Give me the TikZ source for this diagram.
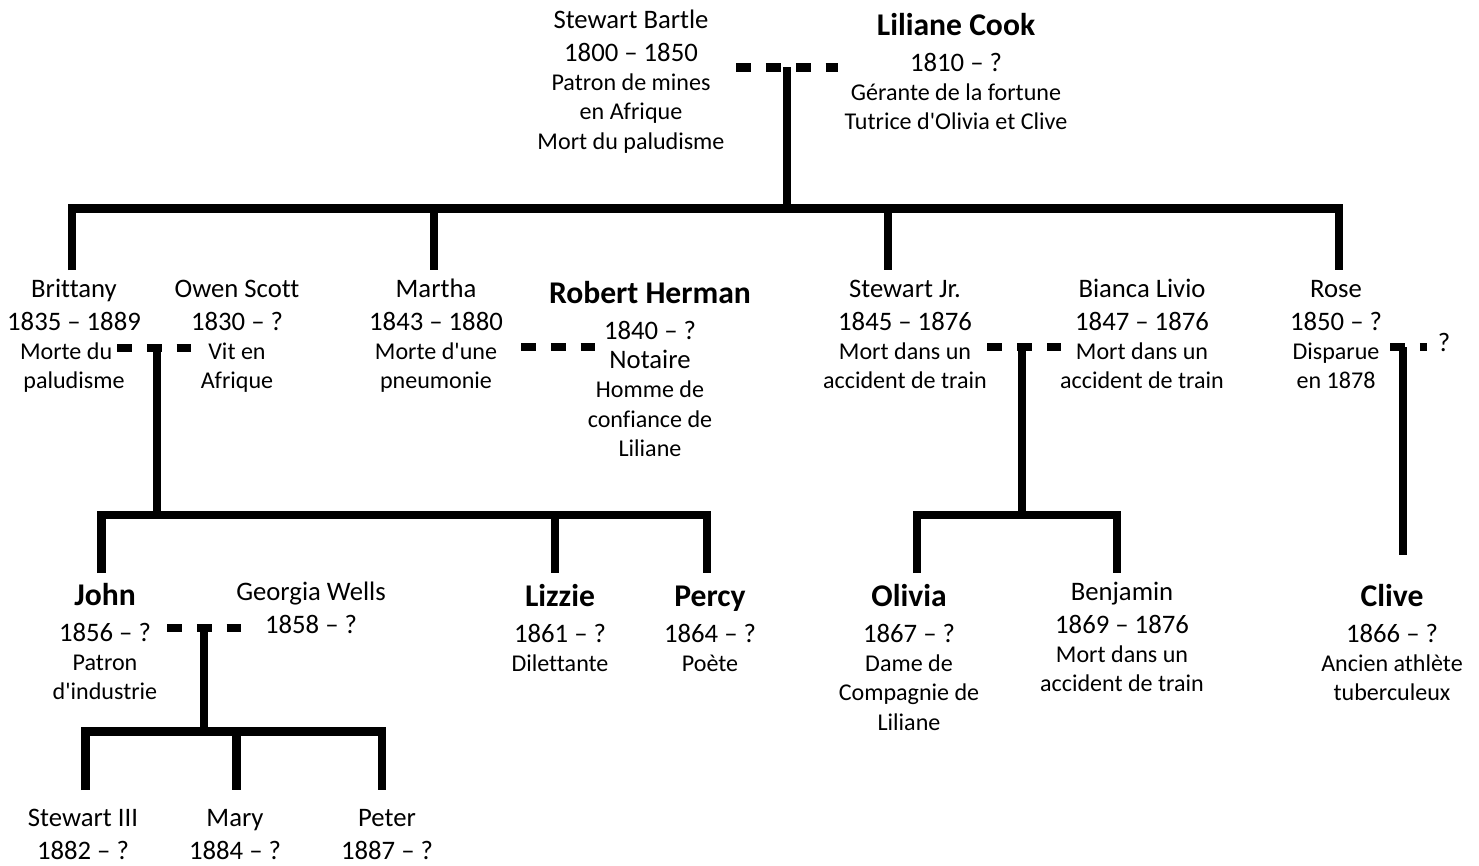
\documentclass[tikz,border=0pt]{standalone}
\usepackage{fontspec}
\newfontfamily\treefont{Carlito}[Ligatures=CommonOff]
\usetikzlibrary{positioning}

\newcommand{\pname}[1]{{\fontsize{15.2}{17}\selectfont\strut #1}}
\newcommand{\bname}[1]{{\fontsize{18}{20}\selectfont\bfseries\strut #1}}
\newcommand{\pdate}[1]{{\fontsize{15.2}{17}\selectfont #1}}

\begin{document}
\begin{tikzpicture}[
    x=0.02cm, y=-0.02cm,
    person/.style={align=center, anchor=north, inner sep=0pt, font=\treefont\fontsize{13.7}{16.6}\selectfont},
    line/.style={line width=4.8pt, line join=miter},
    couple/.style={line width=4.8pt, dash pattern=on 8.7pt off 8.3pt}
]
\useasboundingbox (0,0) rectangle (1479,865);

% First generation
\node[person] (bartle) at (631,7.6) {\pname{Stewart Bartle}\\[2pt] \pdate{1800 – 1850}\\ Patron de mines\\ en Afrique\\ Mort du paludisme};
\node[person] (cook) at (956,10.5) {\bname{Liliane Cook}\\[4pt] \pdate{1810 – ?}\\ Gérante de la fortune\\ Tutrice d'Olivia et Clive};

% Second generation
\node[person] (brittany) at (74,276.6) {\pname{Brittany}\\[2pt] \pdate{1835 – 1889}\\ Morte du\kern9pt\\ paludisme};
\node[person] (owen) at (237,276.6) {\pname{Owen Scott}\\[2pt] \pdate{1830 – ?}\\ Vit en\\ Afrique};
\node[person] (martha) at (436,276.6) {\pname{Martha}\\[2pt] \pdate{1843 – 1880}\\ Morte d'une\\ pneumonie};
\node[person] (herman) at (650,278.5) {\bname{Robert Herman}\\[4pt] \pdate{1840 – ?}\\ \pdate{Notaire}\\ Homme de\\ confiance de\\ Liliane};
\node[person] (stewartjr) at (905,276.6) {\pname{Stewart Jr.}\\[2pt] \pdate{1845 – 1876}\\ Mort dans un\\ accident de train};
\node[person] (bianca) at (1142,276.6) {\pname{Bianca Livio}\\[2pt] \pdate{1847 – 1876}\\ Mort dans un\\ accident de train};
\node[person] (rose) at (1336,276.6) {\pname{Rose}\\[2pt] \pdate{1850 – ?}\\ Disparue\\ en 1878};
\node[person] (roseq) at (1444,330) {\pname{?}};

% Third generation
\node[person] (john) at (105,580.5) {\bname{John}\\[4pt] \pdate{1856 – ?}\\ Patron\\ d'industrie};
\node[person] (georgia) at (311,579.6) {\pname{Georgia Wells}\\[2pt] \pdate{1858 – ?}};
\node[person] (lizzie) at (560,581.5) {\bname{Lizzie}\\[4pt] \pdate{1861 – ?}\\ Dilettante};
\node[person] (percy) at (710,581.5) {\bname{Percy}\\[4pt] \pdate{1864 – ?}\\ Poète};
\node[person] (olivia) at (909,581.5) {\bname{Olivia}\\[4pt] \pdate{1867 – ?}\\ Dame de\\ Compagnie de\\ Liliane};
\node[person] (benjamin) at (1122,579.6) {\pname{Benjamin}\\[2pt] \pdate{1869 – 1876}\\ Mort dans un\\ accident de train};
\node[person] (clive) at (1392,581.5) {\bname{Clive}\\[4pt] \pdate{1866 – ?}\\ Ancien athlète\\ tuberculeux};

% Fourth generation
\node[person] (stewart3) at (83,805.6) {\pname{Stewart III}\\[2pt] \pdate{1882 – ?}};
\node[person] (mary) at (235,805.6) {\pname{Mary}\\[2pt] \pdate{1884 – ?}};
\node[person] (peter) at (387,805.6) {\pname{Peter}\\[2pt] \pdate{1887 – ?}};

% Link points
\coordinate (top-a) at (736,67.5);   \coordinate (top-b) at (838,67.5);
\coordinate (top-m) at (787,67.5);   \coordinate (top-j) at (787,208.5);
\coordinate (s-brittany) at (72,270); \coordinate (s-martha) at (434,270);
\coordinate (s-stewartjr) at (888,270); \coordinate (s-rose) at (1339,270);

\coordinate (bo-a) at (117,348);  \coordinate (bo-b) at (191,348);
\coordinate (bo-m) at (157,348);  \coordinate (bo-j) at (157,515);
\coordinate (s-john) at (101.5,573); \coordinate (s-lizzie) at (555,573);
\coordinate (s-percy) at (707,573);

\coordinate (mh-a) at (521,347);  \coordinate (mh-b) at (595,347);

\coordinate (sb-a) at (987,347);  \coordinate (sb-b) at (1061,347);
\coordinate (sb-m) at (1022,347); \coordinate (sb-j) at (1022,515);
\coordinate (s-olivia) at (917,573); \coordinate (s-benjamin) at (1117,573);

\coordinate (rq-a) at (1390,347); \coordinate (rq-b) at (1427,347);
\coordinate (rq-m) at (1403,347); \coordinate (s-clive) at (1403,555);

\coordinate (jg-a) at (167,628);  \coordinate (jg-b) at (241,628);
\coordinate (jg-m) at (204,628);  \coordinate (jg-j) at (204,731.5);
\coordinate (s-stewart3) at (85.5,790); \coordinate (s-mary) at (236.5,790);
\coordinate (s-peter) at (382,790);

% Couples
\draw[couple] (top-a) -- (top-b);
\draw[couple] (bo-a) -- (bo-b);
\draw[couple] (mh-a) -- (mh-b);
\draw[couple] (sb-a) -- (sb-b);
\draw[couple] (rq-a) -- (rq-b);
\draw[couple] (jg-a) -- (jg-b);

% Descent
\draw[line] (top-m) -- (top-j);
\draw[line] (s-brittany) |- (top-j) -| (s-rose);
\draw[line] (s-martha |- top-j) -- (s-martha);
\draw[line] (s-stewartjr |- top-j) -- (s-stewartjr);

\draw[line] (bo-m) -- (bo-j);
\draw[line] (s-john) |- (bo-j) -| (s-percy);
\draw[line] (s-lizzie |- bo-j) -- (s-lizzie);

\draw[line] (sb-m) -- (sb-j);
\draw[line] (s-olivia) |- (sb-j) -| (s-benjamin);

\draw[line] (rq-m) -- (s-clive);

\draw[line] (jg-m) -- (jg-j);
\draw[line] (s-stewart3) |- (jg-j) -| (s-peter);
\draw[line] (s-mary |- jg-j) -- (s-mary);

\end{tikzpicture}
\end{document}
